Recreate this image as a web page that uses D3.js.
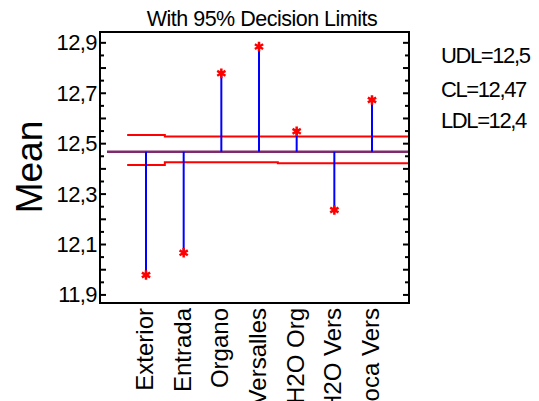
<!DOCTYPE html>
<html>
<head>
<meta charset="utf-8">
<script src="https://cdn.jsdelivr.net/npm/d3@7"></script>
<style>
  html, body { margin: 0; padding: 0; background: #fff; overflow: hidden; }
  svg { display: block; font-family: "Liberation Sans", Arial, sans-serif; }
</style>
</head>
<body>
<svg id="chart" width="539" height="401"></svg>
<script>
// ANOM chart: group means against the centre line with 95% decision limits
const categories = ["Exterior", "Entrada", "Organo", "Versalles", "H2O Org", "H2O Vers", "Boca Vers"];
const means = [11.977, 12.065, 12.777, 12.883, 12.547, 12.235, 12.671];
const centerLine = 12.466;
const upperLimits = [12.532, 12.526, 12.526, 12.526, 12.526, 12.526, 12.526];
const lowerLimits = [12.413, 12.424, 12.424, 12.424, 12.420, 12.420, 12.420];
const yTicks = [11.9, 12.1, 12.3, 12.5, 12.7, 12.9];
const yDomain = [11.866, 12.941];
const limitLabels = ["UDL=12,5", "CL=12,47", "LDL=12,4"];
const title = "With 95% Decision Limits";
const yTitle = "Mean";

const svg = d3.select("#chart");
const plot = { left: 100, right: 409, top: 32, bottom: 303 };

const y = d3.scaleLinear().domain(yDomain).range([plot.bottom, plot.top]);
const x = d3.scalePoint().domain(categories).range([146, 372]);
const step = x.step();
const fmt = v => d3.format(".1f")(v).replace(".", ",");

// title
svg.append("text")
  .attr("x", 262).attr("y", 26)
  .attr("text-anchor", "middle")
  .attr("font-size", 21.5)
  .attr("letter-spacing", -0.5)
  .attr("fill", "#000")
  .text(title);

// y axis title
svg.append("text")
  .attr("transform", `translate(42,167) rotate(-90)`)
  .attr("text-anchor", "middle")
  .attr("font-size", 37)
  .attr("fill", "#000")
  .text(yTitle);

// inward ticks on left and right sides: labelled every 0.1, minor every 0.05
const minor = d3.range(0, 22).map(i => +(11.9 + i * 0.05).toFixed(2)).filter(v => v <= 12.9001);
const major = minor.filter((v, i) => i % 2 === 0);
const leftAxis = d3.axisRight(y).tickValues(major).tickSize(6).tickFormat("");
const leftMinor = d3.axisRight(y).tickValues(minor.filter(v => !major.includes(v))).tickSize(4).tickFormat("");
const rightAxis = d3.axisLeft(y).tickValues(major).tickSize(6).tickFormat("");
const rightMinor = d3.axisLeft(y).tickValues(minor.filter(v => !major.includes(v))).tickSize(4).tickFormat("");
[[leftAxis, plot.left], [leftMinor, plot.left], [rightAxis, plot.right], [rightMinor, plot.right]].forEach(([ax, px]) => {
  const g = svg.append("g").attr("transform", `translate(${px},0)`).call(ax);
  g.select(".domain").remove();
  g.selectAll("line").attr("stroke", "#000").attr("stroke-width", 2);
});

// tick labels
svg.append("g").selectAll("text")
  .data(yTicks).join("text")
  .attr("x", 97).attr("y", d => y(d) + 8)
  .attr("text-anchor", "end")
  .attr("font-size", 22)
  .attr("letter-spacing", -0.6)
  .attr("fill", "#000")
  .text(fmt);

// category labels, rotated; the longer ones run past the bottom edge
svg.append("g").selectAll("text")
  .data(categories).join("text")
  .attr("transform", d => `translate(${x(d) + 7},308) rotate(-90)`)
  .attr("text-anchor", "end")
  .attr("font-size", 24)
  .attr("fill", "#000")
  .text(d => d);

// decision limit step lines
function stepPath(vals) {
  const pts = [];
  categories.forEach((c, i) => {
    const x0 = x(c) - step / 2;
    const x1 = i === categories.length - 1 ? plot.right : x(c) + step / 2;
    pts.push([x0, y(vals[i])], [x1, y(vals[i])]);
  });
  return d3.line()(pts);
}
[upperLimits, lowerLimits].forEach(vals => {
  svg.append("path")
    .attr("d", stepPath(vals))
    .attr("fill", "none")
    .attr("stroke", "#ff0000")
    .attr("stroke-width", 2);
});

// centre line
svg.append("line")
  .attr("x1", 107).attr("x2", plot.right)
  .attr("y1", y(centerLine)).attr("y2", y(centerLine))
  .attr("stroke", "#7e2a6c")
  .attr("stroke-width", 2.5);

// stems from the centre line to each mean
svg.append("g").selectAll("line")
  .data(categories).join("line")
  .attr("x1", d => x(d)).attr("x2", d => x(d))
  .attr("y1", y(centerLine))
  .attr("y2", (d, i) => y(means[i]))
  .attr("stroke", "#0000ff")
  .attr("stroke-width", 2);

// mean markers
svg.append("g").selectAll("path")
  .data(categories).join("path")
  .attr("transform", (d, i) => `translate(${x(d)},${y(means[i])})`)
  .attr("d", d3.symbol(d3.symbolAsterisk, 64)())
  .attr("fill", "none")
  .attr("stroke", "#ff0000")
  .attr("stroke-width", 2.5);

// plot frame
svg.append("rect")
  .attr("x", plot.left).attr("y", plot.top)
  .attr("width", plot.right - plot.left).attr("height", plot.bottom - plot.top)
  .attr("fill", "none")
  .attr("stroke", "#000")
  .attr("stroke-width", 2);

// limit values on the right
svg.append("g").selectAll("text")
  .data(limitLabels).join("text")
  .attr("x", 441)
  .attr("y", (d, i) => [63, 97, 128][i])
  .attr("font-size", 22)
  .attr("letter-spacing", -1.4)
  .attr("fill", "#000")
  .text(d => d);
</script>
</body>
</html>
